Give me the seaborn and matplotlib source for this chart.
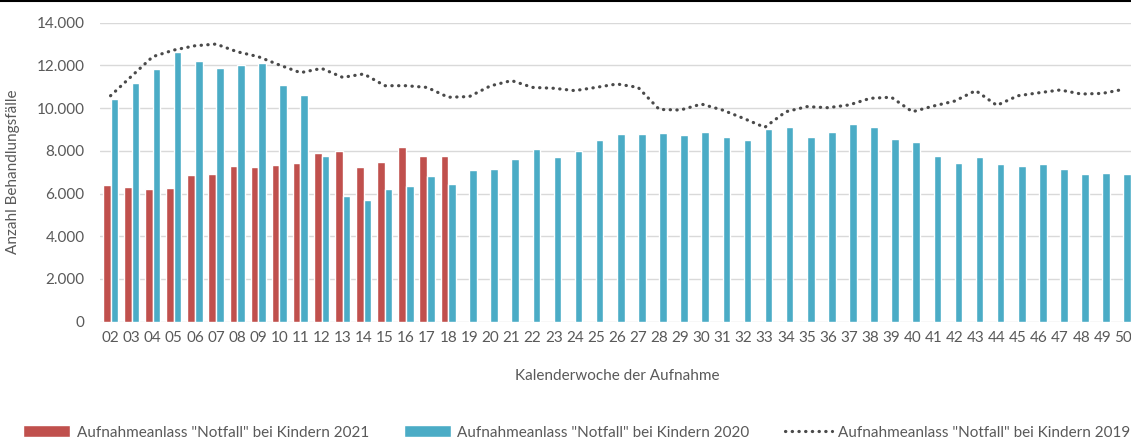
import matplotlib
matplotlib.use("Agg")
import matplotlib.pyplot as plt
import numpy as np
import pandas as pd
import seaborn as sns
from matplotlib.lines import Line2D
from matplotlib.patches import Patch

weeks = [f"{w:02d}" for w in range(2, 51)]

# Notfall-Aufnahmen Kinder 2021 (nur KW 02-18)
notfall_2021 = [6400, 6290, 6210, 6260, 6850, 6900, 7270, 7230, 7320, 7430,
                7900, 7990, 7230, 7480, 8160, 7770, 7770]

notfall_2020 = [10430, 11180, 11850, 12610, 12190, 11900, 12020, 12110, 11080, 10600,
                7740, 5890, 5710, 6210, 6350, 6810, 6430, 7100, 7130, 7600,
                8100, 7700, 7990, 8490, 8790, 8790, 8830, 8740, 8870, 8660,
                8490, 9040, 9120, 8660, 8880, 9260, 9120, 8540, 8410, 7740,
                7430, 7700, 7400, 7270, 7370, 7150, 6930, 6980, 6900]

notfall_2019 = [10580, 11500, 12410, 12720, 12920, 13000, 12640, 12410, 12020, 11660,
                11860, 11440, 11600, 11050, 11050, 10970, 10510, 10540, 11040, 11290,
                10970, 10930, 10820, 10970, 11130, 10970, 9940, 9910, 10190, 9910,
                9520, 9100, 9830, 10070, 10020, 10150, 10460, 10510, 9830, 10100,
                10330, 10820, 10130, 10580, 10720, 10850, 10660, 10690, 10880]

label_2021 = 'Aufnahmeanlass "Notfall" bei Kindern 2021'
label_2020 = 'Aufnahmeanlass "Notfall" bei Kindern 2020'
label_2019 = 'Aufnahmeanlass "Notfall" bei Kindern 2019'

red = "#C0504D"
blue = "#4BACC6"
text_grey = "#595959"

sns.set_theme(style="white")
plt.rcParams["font.family"] = ["Lato", "DejaVu Sans"]

vals_2021 = notfall_2021 + [np.nan] * (len(weeks) - len(notfall_2021))
df = pd.DataFrame({
    "KW": weeks * 2,
    "Anzahl": vals_2021 + notfall_2020,
    "Jahr": ["2021"] * len(weeks) + ["2020"] * len(weeks),
})

fig = plt.figure(figsize=(11.31, 4.38), dpi=100)
ax = fig.add_axes([100 / 1131, (438 - 321.7) / 438, 1034 / 1131, 299 / 438])

sns.barplot(data=df, x="KW", y="Anzahl", hue="Jahr", hue_order=["2021", "2020"],
            palette=[red, blue], width=0.72, gap=0, saturation=1,
            legend=False, ax=ax)
ax.plot(np.arange(len(weeks)), notfall_2019, color="#4a4a4a", linewidth=2.3,
        linestyle=(0, (0.1, 2.0)), dash_capstyle="round", zorder=4)

ax.set_ylim(0, 14000)
ax.set_xlim(-0.5, len(weeks) - 0.5)
ax.set_yticks(np.arange(0, 14001, 2000))
ax.set_yticklabels([f"{v:,.0f}".replace(",", ".") for v in np.arange(0, 14001, 2000)])
ax.grid(axis="y", color="#d9d9d9", linewidth=1.0)
ax.set_axisbelow(True)
for s in ax.spines.values():
    s.set_visible(False)
ax.tick_params(axis="both", length=0, labelsize=11, colors=text_grey)
ax.tick_params(axis="x", pad=7)
ax.tick_params(axis="y", pad=11)
ax.set_xlabel("Kalenderwoche der Aufnahme", fontsize=11, color=text_grey, labelpad=17)
ax.set_ylabel("Anzahl Behandlungsfälle", fontsize=11, color=text_grey, labelpad=12)

handles = [
    Patch(facecolor=red, label=label_2021),
    Patch(facecolor=blue, label=label_2020),
    Line2D([0], [0], color="#4a4a4a", linewidth=2.3, linestyle=(0, (0.1, 2.0)),
           dash_capstyle="round", label=label_2019),
]
leg = fig.legend(handles=handles, loc="lower center", bbox_to_anchor=(0.51, -0.035),
                 ncol=3, frameon=False, fontsize=11, handlelength=3.1,
                 handleheight=0.8, columnspacing=2.3, handletextpad=0.4)
for t in leg.get_texts():
    t.set_color(text_grey)

# schwarze Linie am oberen Bildrand
fig.add_artist(Line2D([0, 1], [0.998, 0.998], transform=fig.transFigure,
                      color="black", linewidth=1.5))

fig.savefig("out.png", dpi=100)
